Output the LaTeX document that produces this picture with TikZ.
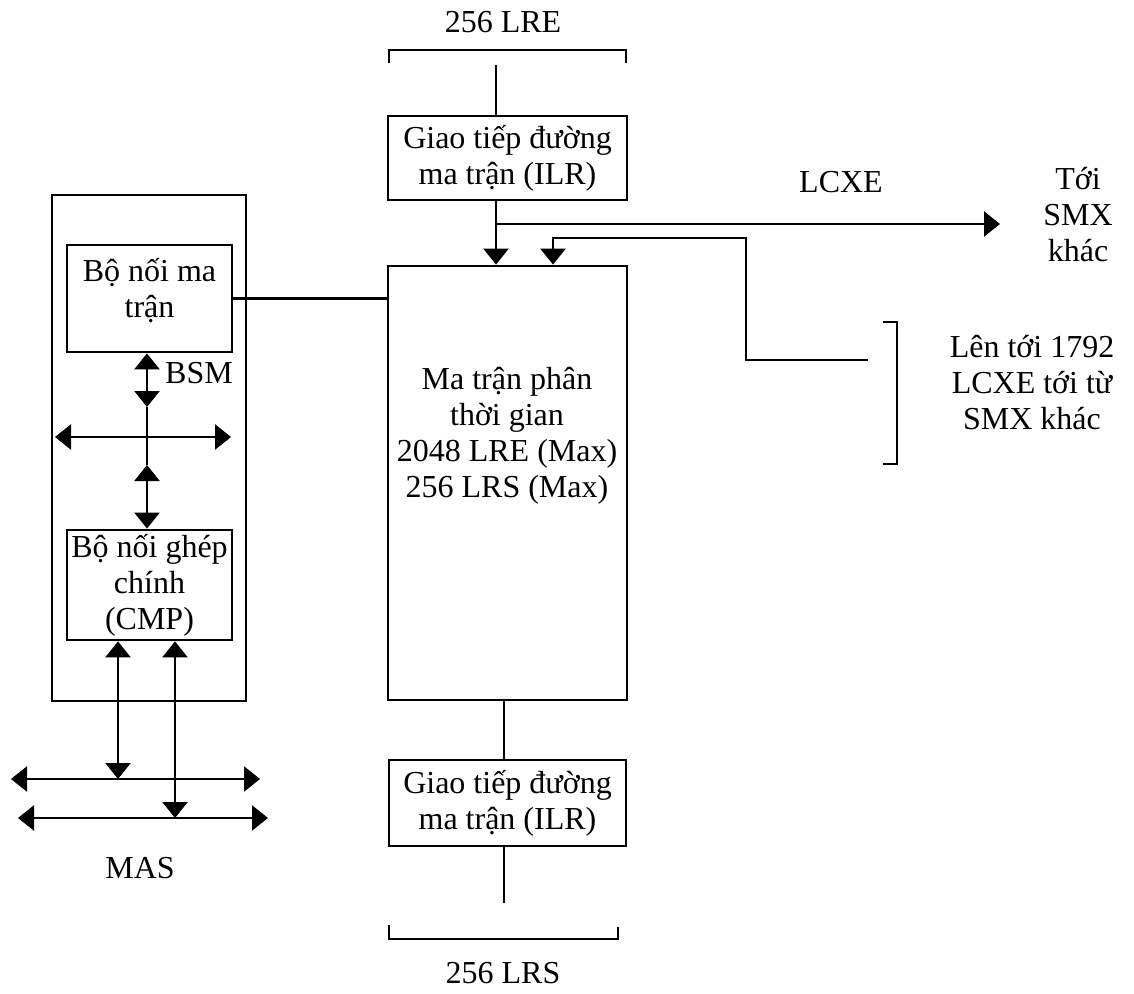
\documentclass[tikz,border=0pt]{standalone}
\usepackage{fontspec}
\setmainfont{Liberation Serif}
\usetikzlibrary{arrows.meta}
\begin{document}
\begin{tikzpicture}[x=0.5pt,y=-0.5pt,
  every node/.style={font=\fontsize{16}{18}\selectfont, align=center, inner sep=0pt},
  box/.style={draw, line width=1.4pt},
  conn/.style={line width=1.2pt},
  >={Triangle[length=8pt,width=12.5pt]}]
\useasboundingbox (0,0) rectangle (1134,994);

% boxes
\node[box, minimum width=119.5pt, minimum height=42pt] (ilrA) at (507.5,158) {Giao tiếp đường\\ma trận (ILR)};
\node[box, minimum width=119.5pt, minimum height=217pt] (mat) at (507.5,483) {};
\node (matT) at (507,436) {Ma trận phân\\thời gian\\2048 LRE (Max)\\256 LRS (Max)};
\node[box, minimum width=97pt, minimum height=253pt] (outer) at (149,448) {};
\node[box, minimum width=82.5pt, minimum height=53.5pt] (bnm) at (149.5,298.5) {};
\node (bnmT) at (149.5,291) {Bộ nối ma\\trận};
\node[box, minimum width=82.5pt, minimum height=55pt] (cmp) at (149.5,585) {Bộ nối ghép\\chính\\(CMP)};
\node[box, minimum width=118.5pt, minimum height=43pt] (ilrB) at (507.5,803) {Giao tiếp đường\\ma trận (ILR)};

% labels
\node (lre) at (503,22) {256 LRE};
\node (lrs) at (503,973) {256 LRS};
\node (lcxe) at (841,182) {LCXE};
\node (toi) at (1078,215) {Tới\\SMX\\khác};
\node (len) at (1032,383) {Lên tới 1792\\LCXE tới từ\\SMX khác};
\node (bsm) at (199,373) {BSM};
\node (mas) at (140,868) {MAS};

% coordinates
\coordinate (topv) at (496,65);
\coordinate (br1) at (496,224);
\coordinate (out1) at (1000,224);
\coordinate (in1) at (868,360);
\coordinate (c1) at (746,238);
\coordinate (a2x) at (553,238);
\coordinate (botv) at (504,903);
\coordinate (v) at (147,437);
\coordinate (v1) at (147,407);
\coordinate (v2) at (147,465);
\coordinate (bsmL) at (55,437);
\coordinate (bsmR) at (231,437);
\coordinate (m1) at (118,779);
\coordinate (m2) at (175,818);
\coordinate (b1L) at (11,779);
\coordinate (b1R) at (260,779);
\coordinate (b2L) at (18,818);
\coordinate (b2R) at (268,818);

% brackets
\draw[conn] (389,63) -- (389,50) -- (626,50) -- (626,63);
\draw[conn] (389,925) -- (389,939) -- (618,939) -- (618,927);
\draw[conn] (883,322) -- (897,322) -- (897,464) -- (883,464);

% connectors
\draw[conn] (topv) -- (topv |- ilrA.north);
\draw[conn,->] (ilrA.south -| topv) -- (mat.north -| topv);
\draw[conn,->] (br1) -- (out1);
\draw[conn,->] (in1) -| (c1) -| (mat.north -| a2x);
\draw[conn] (bnm.east) -- (bnm.east -| mat.west);
\draw[conn] (mat.south -| botv) -- (ilrB.north -| botv);
\draw[conn] (ilrB.south -| botv) -- (botv);

\draw[conn,<->] (bsmL) -- (bsmR);
\draw[conn,<->] (bnm.south -| v) -- (v1);
\draw[conn] (v1) -- (v2);
\draw[conn,<->] (v2) -- (cmp.north -| v);

\draw[conn,<->] (b1L) -- (b1R);
\draw[conn,<->] (b2L) -- (b2R);
\draw[conn,<->] (cmp.south -| m1) -- (m1);
\draw[conn,<->] (cmp.south -| m2) -- (m2);
\end{tikzpicture}
\end{document}
